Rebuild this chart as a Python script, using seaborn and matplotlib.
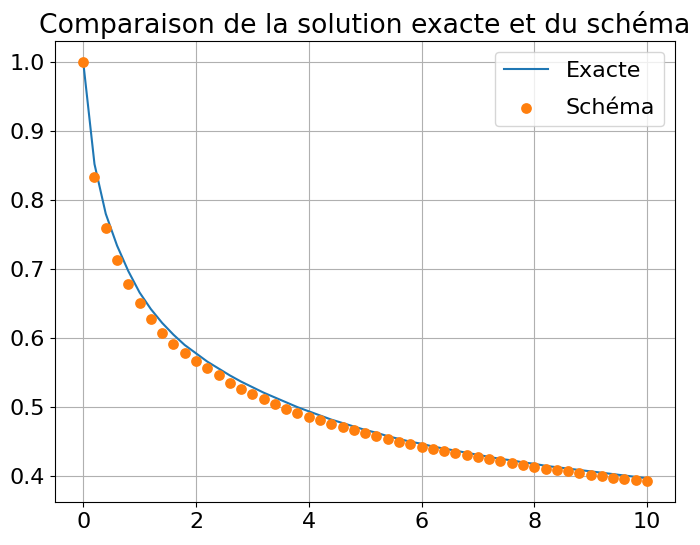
import numpy as np
import matplotlib
matplotlib.use('Agg')
import matplotlib.pyplot as plt
import seaborn as sns

# time grid (step 0.2) shared by both series
t = [round(0.2 * k, 1) for k in range(51)]

exacte = [1.000, 0.852, 0.780, 0.734, 0.697, 0.666, 0.642, 0.622, 0.605, 0.590,
          0.578, 0.566, 0.556, 0.546, 0.537, 0.529, 0.521, 0.514, 0.507, 0.500,
          0.494, 0.488, 0.482, 0.477, 0.472, 0.467, 0.463, 0.458, 0.454, 0.450,
          0.447, 0.443, 0.440, 0.437, 0.434, 0.431, 0.428, 0.425, 0.423, 0.420,
          0.418, 0.415, 0.413, 0.411, 0.409, 0.407, 0.405, 0.403, 0.401, 0.399,
          0.397]

schema = [1.000, 0.834, 0.760, 0.713, 0.678, 0.651, 0.628, 0.608, 0.592, 0.578,
          0.567, 0.556, 0.546, 0.535, 0.527, 0.519, 0.512, 0.505, 0.498, 0.492,
          0.486, 0.481, 0.476, 0.471, 0.467, 0.462, 0.458, 0.454, 0.450, 0.447,
          0.443, 0.440, 0.437, 0.433, 0.430, 0.428, 0.425, 0.422, 0.419, 0.416,
          0.413, 0.411, 0.409, 0.407, 0.404, 0.402, 0.400, 0.398, 0.396, 0.394,
          0.393]

plt.rcParams['font.size'] = 16

fig = plt.figure(figsize=(7, 5.45), dpi=100)
ax = fig.add_axes([0.0786, 0.0789, 0.886, 0.846])

sns.lineplot(x=t, y=exacte, ax=ax, color='C0', linewidth=1.5, label='Exacte')
sns.scatterplot(x=t, y=schema, ax=ax, color='C1', s=60, linewidth=0,
                label='Schéma', zorder=3)

ax.set_title('Comparaison de la solution exacte et du schéma', fontsize=19.2)
ax.grid(True)
ax.set_axisbelow(True)
ax.legend(loc='upper right', fontsize=16, labelspacing=0.75)

fig.savefig('out.png', dpi=100)
